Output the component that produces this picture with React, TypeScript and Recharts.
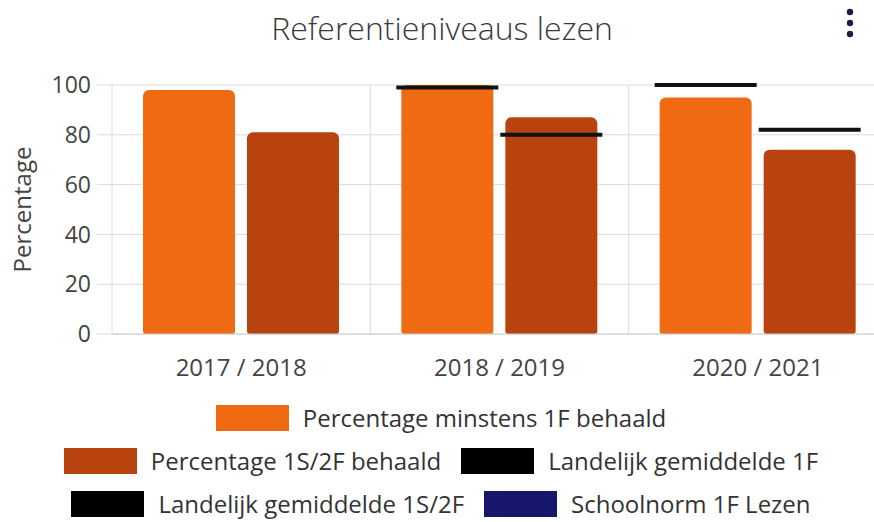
import React from "react"
import {
  ComposedChart,
  Bar,
  XAxis,
  YAxis,
  CartesianGrid,
} from "recharts"

const years = ["2017 / 2018", "2018 / 2019", "2020 / 2021"]
const minstens1F = [98, 100, 95]
const behaald1S2F = [81, 87, 74]
const landelijk1F: (number | null)[] = [null, 99, 100]
const landelijk1S2F: (number | null)[] = [null, 80, 82]
const yTicks = [0, 20, 40, 60, 80, 100]

const FONT = "'Open Sans', 'DejaVu Sans', sans-serif"
const ORANGE = "#EF6A12"
const RUST = "#B9430F"
const NAVY = "#16166B"

const legendRows = [
  [{ name: "Percentage minstens 1F behaald", color: ORANGE }],
  [
    { name: "Percentage 1S/2F behaald", color: RUST },
    { name: "Landelijk gemiddelde 1F", color: "#000" },
  ],
  [
    { name: "Landelijk gemiddelde 1S/2F", color: "#000" },
    { name: "Schoolnorm 1F Lezen", color: NAVY },
  ],
]

const chartData = years.map((year, i) => ({
  year,
  min1F: minstens1F[i],
  s2F: behaald1S2F[i],
  land1F: landelijk1F[i],
  land2F: landelijk1S2F[i],
}))

// draws the national average as a short thick bar across the matching column
const refLine = (key: string) => (props: any) => {
  const { x, y, width, payload } = props
  if (payload?.[key] == null) return <g />
  return (
    <line x1={x - 5} x2={x + width + 5} y1={y} y2={y} stroke="#111" strokeWidth={4} />
  )
}

export default function App() {
  return (
    <div
      style={{
        position: "absolute",
        top: 0,
        left: 0,
        width: 874,
        height: 522,
        overflow: "hidden",
        background: "#fff",
        fontFamily: FONT,
      }}
    >
      <div
        style={{
          position: "absolute",
          top: 6,
          left: 0,
          width: 884,
          textAlign: "center",
          fontSize: 32,
          fontWeight: 300,
          color: "#3a3a3a",
        }}
      >
        Referentieniveaus lezen
      </div>
      <svg style={{ position: "absolute", left: 842, top: 6 }} width={16} height={34}>
        <circle cx={8} cy={6} r={3.2} fill="#1c1c4c" />
        <circle cx={8} cy={17} r={3.2} fill="#1c1c4c" />
        <circle cx={8} cy={28} r={3.2} fill="#1c1c4c" />
      </svg>

      <div style={{ position: "absolute", top: 0, left: 0 }}>
        <ComposedChart
          width={900}
          height={394}
          data={chartData}
          margin={{ top: 85, right: 13, left: 0, bottom: 0 }}
          barCategoryGap="12%"
          barGap={12}
        >
          <CartesianGrid
            stroke="#dcdcdc"
            verticalCoordinatesGenerator={({ offset }: any) =>
              [0, 1, 2, 3].map((i) => offset.left + (i * offset.width) / years.length)
            }
          />
          <XAxis
            dataKey="year"
            tickLine={false}
            axisLine={{ stroke: "#cfcfcf" }}
            height={60}
            tickMargin={19}
            tick={{ fontSize: 24, fill: "#444", fontFamily: FONT }}
          />
          <XAxis xAxisId="ref" dataKey="year" hide />
          <YAxis
            domain={[0, 100]}
            ticks={yTicks}
            width={112}
            axisLine={false}
            tickSize={15}
            tickMargin={6}
            tickLine={{ stroke: "#dcdcdc" }}
            tick={{ fontSize: 23, fill: "#444", fontFamily: FONT }}
            label={{
              value: "Percentage",
              angle: -90,
              position: "insideLeft",
              offset: 22,
              style: { textAnchor: "middle", fontSize: 24, fill: "#444", fontFamily: FONT },
            }}
          />
          <Bar dataKey="min1F" fill={ORANGE} radius={[6, 6, 3, 3]} isAnimationActive={false} />
          <Bar dataKey="s2F" fill={RUST} radius={[6, 6, 3, 3]} isAnimationActive={false} />
          <Bar
            xAxisId="ref"
            dataKey="land1F"
            fill="#111"
            shape={refLine("land1F")}
            isAnimationActive={false}
          />
          <Bar
            xAxisId="ref"
            dataKey="land2F"
            fill="#111"
            shape={refLine("land2F")}
            isAnimationActive={false}
          />
        </ComposedChart>
      </div>

      <div style={{ position: "absolute", top: 396, left: 0, width: 882 }}>
        {legendRows.map((row, r) => (
          <div
            key={r}
            style={{
              display: "flex",
              justifyContent: "center",
              gap: 20,
              height: 43,
              alignItems: "center",
            }}
          >
            {row.map((item) => (
              <div key={item.name} style={{ display: "flex", alignItems: "center" }}>
                <div style={{ width: 73, height: 26, background: item.color, marginRight: 14 }} />
                <span style={{ fontSize: 24, color: "#333" }}>{item.name}</span>
              </div>
            ))}
          </div>
        ))}
      </div>
    </div>
  )
}
